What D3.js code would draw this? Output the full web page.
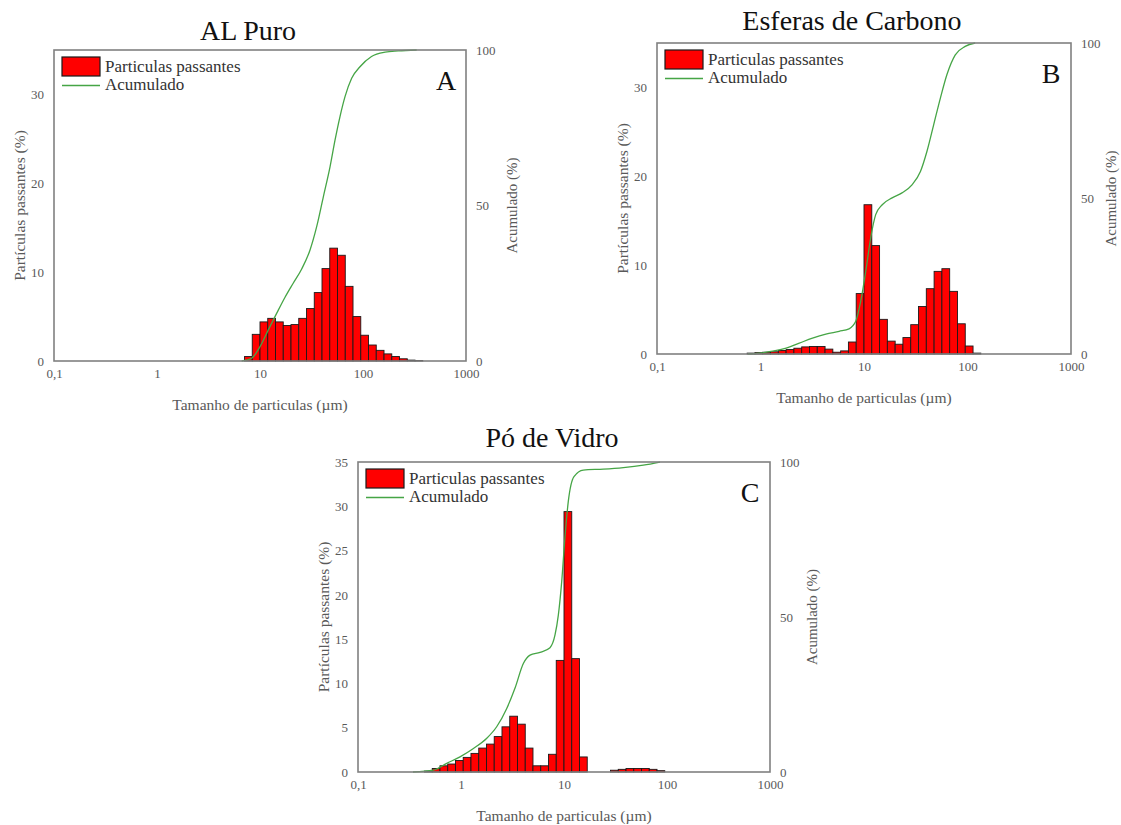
<!DOCTYPE html>
<html>
<head>
<meta charset="utf-8">
<script src="https://cdn.jsdelivr.net/npm/d3@7"></script>
<style>
  body { margin: 0; background: #fff; }
  svg text { font-family: "Liberation Serif", "Times New Roman", serif; }
</style>
</head>
<body>
<svg id="chart" width="1121" height="825"></svg>
<script>
// tick labels
const xTickVals = [0.1, 1, 10, 100, 1000];
const xTickLabels = ['0,1', '1', '10', '100', '1000'];
const rightTicks = [0, 50, 100];

// lower edge of each bin (µm), quarter-octave bins
const binLowA = [7.07, 8.41, 10, 11.89, 14.14, 16.82, 20, 23.78, 28.28, 33.64, 40, 47.57, 56.57, 67.27, 80, 95.14, 113.1, 134.5, 160, 190.3, 226.3, 269.1, 320];
const passA = [0.5, 3.0, 4.4, 4.8, 4.4, 4.0, 4.1, 4.8, 5.9, 7.7, 10.4, 12.7, 11.9, 8.4, 5.0, 2.9, 1.8, 1.2, 0.8, 0.5, 0.25, 0.1, 0.05];
const cumSizeA = [6.64, 8.3, 10, 12.04, 14.5, 17.5, 21.0, 25.4, 30.6, 35.5, 41.2, 47.9, 53.5, 59.8, 66.9, 77.6, 93.5, 121, 164, 220, 332];
const cumA = [0, 0.9, 4.6, 10, 15.3, 20.5, 25, 29.6, 35.7, 43.2, 52.8, 62.5, 71, 78.6, 85, 90.9, 94.6, 97.9, 99.3, 99.7, 100];

const binLowB = [0.743, 0.884, 1.051, 1.25, 1.487, 1.768, 2.102, 2.5, 2.973, 3.536, 4.204, 5.0, 5.946, 7.071, 8.409, 10, 11.89, 14.14, 16.82, 20, 23.78, 28.28, 33.64, 40, 47.57, 56.57, 67.27, 80, 95.14, 113.1];
const passB = [0.1, 0.15, 0.2, 0.25, 0.4, 0.5, 0.65, 0.8, 0.85, 0.85, 0.55, 0.2, 0.35, 1.35, 6.8, 16.8, 12.2, 3.9, 1.45, 1.1, 1.85, 3.3, 5.35, 7.35, 9.3, 9.6, 7.05, 3.4, 0.9, 0.1];
const cumSizeB = [0.755, 0.978, 1.31, 1.77, 2.37, 3.18, 4.28, 5.75, 7.17, 8.32, 9.29, 10.4, 11.6, 12.97, 15.0, 18.7, 23.3, 29.1, 35.1, 40.6, 47.1, 54.7, 63.2, 76.2, 95.0, 118.6];
const cumB = [0, 0.3, 0.9, 1.9, 3.5, 5.1, 6.4, 7.3, 8.1, 10.5, 16.9, 26.6, 37.3, 44.8, 48, 50.2, 51.8, 54.4, 58.7, 65.2, 73.7, 82.3, 89.8, 96.2, 98.9, 100];

const binLowC = [0.442, 0.526, 0.625, 0.743, 0.884, 1.051, 1.25, 1.487, 1.768, 2.102, 2.5, 2.973, 3.536, 4.204, 5.0, 5.946, 7.071, 8.409, 10, 11.89, 14.14, 28.28, 33.64, 40, 47.57, 56.57, 67.27, 80];
const passC = [0.1, 0.4, 0.7, 0.9, 1.3, 1.65, 2.1, 2.7, 3.15, 4.0, 5.1, 6.3, 5.4, 2.7, 0.7, 0.7, 2.0, 12.6, 29.4, 12.8, 1.7, 0.2, 0.3, 0.4, 0.4, 0.4, 0.3, 0.15];
const cumSizeC = [0.342, 0.538, 0.727, 0.978, 1.32, 1.78, 2.22, 2.78, 3.34, 4.03, 4.68, 5.85, 7.31, 8.18, 8.81, 9.5, 10.2, 11.0, 12.5, 15.4, 24.1, 37.7, 58.9, 85.5];
const cumC = [0, 0.6, 2.8, 4.9, 7.6, 10.9, 14.6, 20.5, 27, 35, 37.7, 38.6, 40.1, 44.2, 50.6, 61.4, 75.4, 87.2, 95.3, 97.4, 97.7, 98.2, 99, 100];

const binRatio = Math.pow(2, 0.25);

const panels = [
  { letter: 'A', title: 'AL Puro', x0: 54, x1: 466, y0: 50, y1: 361, titleY: 40, rightTitleDx: 46,
    yMax: 35, yTicks: [0, 10, 20, 30], bins: binLowA, pass: passA, cumSize: cumSizeA, cum: cumA },
  { letter: 'B', title: 'Esferas de Carbono', x0: 657, x1: 1071, y0: 43, y1: 354, titleY: 30, rightTitleDx: 40,
    yMax: 35, yTicks: [0, 10, 20, 30], bins: binLowB, pass: passB, cumSize: cumSizeB, cum: cumB },
  { letter: 'C', title: 'Pó de Vidro', x0: 358, x1: 770, y0: 462, y1: 772, titleY: 447, rightTitleDx: 42,
    yMax: 35, yTicks: [0, 5, 10, 15, 20, 25, 30, 35], bins: binLowC, pass: passC, cumSize: cumSizeC, cum: cumC }
];

const svg = d3.select('#chart');
const gray = '#595959';

panels.forEach(p => drawPanel(p));

function drawPanel(p) {
  const g = svg.append('g');
  const x = d3.scaleLog().domain([0.1, 1000]).range([p.x0, p.x1]);
  const y = d3.scaleLinear().domain([0, p.yMax]).range([p.y1, p.y0]);
  const y2 = d3.scaleLinear().domain([0, 100]).range([p.y1, p.y0]);
  const midX = (p.x0 + p.x1) / 2;
  const midY = (p.y0 + p.y1) / 2;

  // bars
  g.selectAll('rect.bar')
    .data(p.bins.map((b, i) => ({ lo: b, hi: b * binRatio, v: p.pass[i] })))
    .enter().append('rect')
    .attr('class', 'bar')
    .attr('x', d => x(d.lo))
    .attr('width', d => x(d.hi) - x(d.lo))
    .attr('y', d => y(d.v))
    .attr('height', d => y(0) - y(d.v))
    .attr('fill', '#ff0000')
    .attr('stroke', '#1a1a1a')
    .attr('stroke-width', 0.9);

  // cumulative
  const line = d3.line()
    .x(d => x(d[0]))
    .y(d => y2(d[1]))
    .curve(d3.curveMonotoneX);
  g.append('path')
    .datum(p.cumSize.map((s, i) => [s, p.cum[i]]))
    .attr('d', line)
    .attr('fill', 'none')
    .attr('stroke', '#46a546')
    .attr('stroke-width', 1.3);

  // frame
  g.append('rect')
    .attr('x', p.x0).attr('y', p.y0)
    .attr('width', p.x1 - p.x0).attr('height', p.y1 - p.y0)
    .attr('fill', 'none')
    .attr('stroke', '#808080')
    .attr('stroke-width', 1.6);

  // axes
  const ax = g.append('g').attr('transform', `translate(0,${p.y1})`)
    .call(d3.axisBottom(x).tickValues(xTickVals).tickSize(0).tickPadding(8)
      .tickFormat((d, i) => xTickLabels[i]));
  const ay = g.append('g').attr('transform', `translate(${p.x0},0)`)
    .call(d3.axisLeft(y).tickValues(p.yTicks).tickSize(0).tickPadding(10));
  const ay2 = g.append('g').attr('transform', `translate(${p.x1},0)`)
    .call(d3.axisRight(y2).tickValues(rightTicks).tickSize(0).tickPadding(10));
  [ax, ay, ay2].forEach(a => {
    a.select('.domain').remove();
    a.selectAll('text')
      .style('font-family', '"Liberation Serif", serif')
      .style('font-size', '13px')
      .attr('fill', gray);
  });

  // axis titles
  g.append('text')
    .attr('x', midX).attr('y', p.y1 + 49)
    .attr('text-anchor', 'middle')
    .attr('font-size', 15.5).attr('fill', gray)
    .text('Tamanho de particulas (µm)');
  g.append('text')
    .attr('transform', `translate(${p.x0 - 34},${midY}) rotate(-90)`)
    .attr('text-anchor', 'middle').attr('dy', '0.35em')
    .attr('font-size', 15.5).attr('fill', gray)
    .text('Partículas passantes (%)');
  g.append('text')
    .attr('transform', `translate(${p.x1 + p.rightTitleDx},${midY}) rotate(-90)`)
    .attr('text-anchor', 'middle').attr('dy', '0.35em')
    .attr('font-size', 15).attr('fill', gray)
    .text('Acumulado (%)');

  // title and panel letter
  g.append('text')
    .attr('x', midX - 12).attr('y', p.titleY)
    .attr('text-anchor', 'middle')
    .attr('font-size', 28).attr('fill', '#111')
    .text(p.title);
  g.append('text')
    .attr('x', p.x1 - 20).attr('y', p.y0 + 40)
    .attr('text-anchor', 'middle')
    .attr('font-size', 28).attr('fill', '#111')
    .text(p.letter);

  // legend
  const lg = g.append('g').attr('transform', `translate(${p.x0 + 8},${p.y0 + 7})`);
  lg.append('rect')
    .attr('width', 38).attr('height', 19)
    .attr('fill', '#ff0000').attr('stroke', '#1a1a1a').attr('stroke-width', 1.2);
  lg.append('text')
    .attr('x', 43).attr('y', 15)
    .attr('font-size', 17).attr('fill', '#333')
    .text('Particulas passantes');
  lg.append('line')
    .attr('x1', 0).attr('x2', 38).attr('y1', 28.5).attr('y2', 28.5)
    .attr('stroke', '#46a546').attr('stroke-width', 1.3);
  lg.append('text')
    .attr('x', 43).attr('y', 32.5)
    .attr('font-size', 17).attr('fill', '#333')
    .text('Acumulado');
}
</script>
</body>
</html>
